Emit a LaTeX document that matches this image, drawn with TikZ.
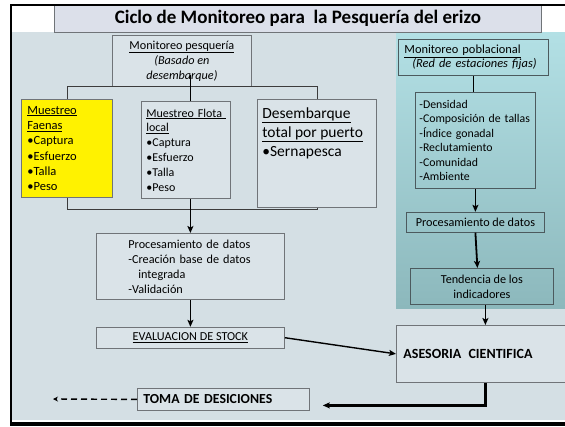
\documentclass[tikz,border=0pt]{standalone}
\usepackage{fontspec}
\setmainfont{Carlito}
\usetikzlibrary{arrows.meta,positioning,calc}
\definecolor{Slide}{HTML}{D4DFE4}
\definecolor{Card}{HTML}{DAE3E8}
\definecolor{Banner}{HTML}{DCE0EA}
\definecolor{Edge}{HTML}{707478}
\definecolor{Deep}{HTML}{4C5A5E}
\definecolor{TealTop}{HTML}{B3E0E5}
\definecolor{TealLow}{HTML}{8CB8BC}
\definecolor{Wire}{HTML}{3C3C3C}
\tikzset{
  card/.style={draw=Edge, fill=#1, line width=0.8pt, inner sep=0pt, anchor=north west},
  card/.default=Card,
  tealcard/.style={draw=Deep, line width=0.8pt, inner sep=0pt, anchor=north west},
  body/.style={font=\fontsize{12.2}{15}\selectfont},
  bracket/.style={draw=Wire, line width=0.8pt},
  arrow/.style={-{Stealth[length=7pt,width=6pt,inset=1.5pt]}, line width=1.8pt, draw=black},
  dasharrow/.style={-{Stealth[length=5pt,width=5pt]}, line width=1.4pt, draw=black, dash pattern=on 6pt off 4pt}
}
\hyphenpenalty=10000
\begin{document}
\begin{tikzpicture}[x=1pt, y=-1pt]
  \useasboundingbox (0,0) rectangle (565,426);
  \fill[white] (0,0) rectangle (565,426);
  \fill[Slide] (12,32) rectangle (580,419.5);
  \shade[top color=TealTop, bottom color=TealLow] (396,32) rectangle (580,308);

  \node[card=Banner, minimum width=487pt, minimum height=28pt, font=\bfseries\fontsize{19}{22}\selectfont] (title) at (54,4) {Ciclo de Monitoreo para~ la Pesquería del erizo};

  \node[card, minimum width=139pt, minimum height=51pt, body, align=center] (mpesq) at (112,35) {\underline{Monitoreo pesquería}\\\textit{(Basado en}\\\textit{desembarque)}};
  \node[card=yellow, minimum width=91pt, minimum height=98pt, inner xsep=6pt, text width=79pt, align=left, font=\fontsize{12.5}{15.3}\selectfont] (faenas) at (21,99) {\underline{Muestreo}\\\underline{Faenas}\\•Captura\\•Esfuerzo\\•Talla\\•Peso};
  \node[card, minimum width=89pt, minimum height=97pt, inner xsep=5pt, text width=79pt, align=left, font=\fontsize{12}{14.8}\selectfont] (flota) at (141,101) {\underline{Muestreo Flota\ }\\\underline{local}\\•Captura\\•Esfuerzo\\•Talla\\•Peso};
  \node[card, inner xsep=5pt, inner ysep=8pt, font=\fontsize{15.5}{19}\selectfont] (desemb) at (257,99) {\parbox[t][92pt][t]{109pt}{\underline{Desembarque}\\\underline{total por puerto}\\•Sernapesca}};

  \node[card, minimum width=188pt, minimum height=66pt, body, text width=124pt, align=left] (proc) at (96,233) {Procesamiento de datos\\-Creación base de datos\\\hspace*{10pt}integrada\\-Validación};
  \node[card, below=27pt of proc, minimum width=188pt, minimum height=21pt, body] (eval) {\underline{EVALUACION DE STOCK}};
  \node[card, minimum width=172pt, minimum height=22pt, inner xsep=6pt, text width=160pt, align=left, font=\bfseries\fontsize{13.8}{16}\selectfont] (toma) at (137,388) {TOMA DE DESICIONES};
  \node[card, minimum width=178pt, minimum height=57pt, inner xsep=7pt, text width=164pt, align=left, font=\bfseries\fontsize{14}{16}\selectfont] (ases) at (396,325) {ASESORIA\hspace{2.5pt} CIENTIFICA};

  \node[tealcard, minimum width=150pt, minimum height=36pt, inner xsep=6pt, text width=138pt, align=left, font=\fontsize{12.4}{14.5}\selectfont] (mpobl) at (398,39) {\underline{Monitoreo poblacional}\\\hspace*{8pt}\textit{(Red de estaciones fijas)}};
  \node[tealcard, minimum width=120pt, minimum height=96pt, inner xsep=4pt, text width=112pt, align=left, font=\fontsize{11.8}{14.5}\selectfont] (lista) at (415,92) {-Densidad\\-Composición de tallas\\-Índice gonadal\\-Reclutamiento\\-Comunidad\\-Ambiente};
  \node[tealcard, below=23pt of lista, minimum width=138pt, minimum height=20pt, body] (rproc) {Procesamiento de datos};
  \node[tealcard, minimum width=143pt, minimum height=36pt, body, align=center] (tend) at (410,268) {Tendencia de los\\indicadores};

  \coordinate (tap) at (190,75);
  \coordinate (tomaend) at (53,399);
  \draw[bracket] (faenas.north) -- (faenas.north |- mpesq.south) -| (desemb.north);
  \draw[bracket] (faenas.south) |- ([yshift=-2pt]desemb.south) -- (desemb.south);
  \draw[line width=1pt] (tap) -- (tap |- flota.north);
  \draw[arrow] (proc.north |- flota.south) -- (proc.north);
  \draw[arrow] (proc.south) -- (eval.north);
  \draw[arrow, line width=1.4pt] (eval.east) -- (ases.west);
  \draw[arrow, line width=2.2pt] (ases.south) |- ($(toma.east)+(13,6)$);
  \draw[dasharrow] (toma.west) -- (tomaend);
  \draw[line width=1pt] (mpobl.south) -- (mpobl.south |- lista.north);
  \draw[arrow] (lista.south) -- (rproc.north);
  \draw[arrow] (rproc.south) -- ($(rproc.south |- tend.north)+(2,0)$);
  \draw[arrow] (tend.south -| ases.north) -- (ases.north);

  \draw[line width=2.2pt] (11,5) rectangle (590,424);
  \fill[black] (10,421.5) rectangle (590,426);
\end{tikzpicture}
\end{document}
